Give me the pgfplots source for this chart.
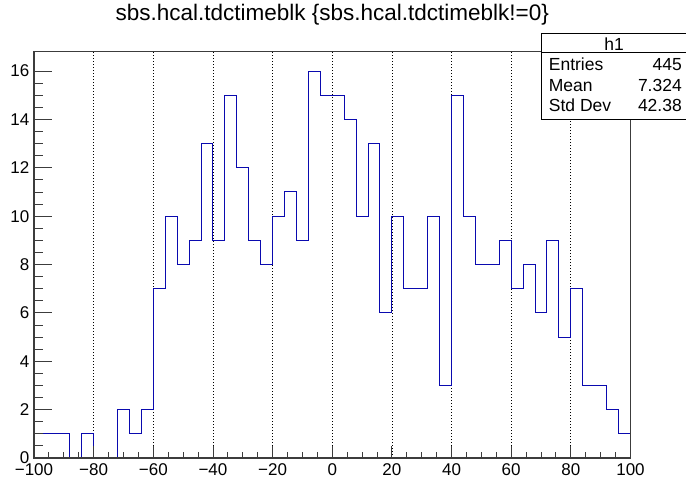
\documentclass[border=0pt]{standalone}
\usepackage{fontspec}
\setmainfont{Liberation Sans}
\usepackage{pgfplots}
\pgfplotsset{compat=1.18}

\definecolor{histblue}{RGB}{10,10,175}
\definecolor{framegray}{RGB}{60,60,60}

\begin{document}
\begin{tikzpicture}[x=1pt,y=1pt]
\begin{axis}[
  at={(0,0)}, anchor=south west,
  scale only axis, width=596.5pt, height=406.3pt,
  xmin=-100, xmax=100, ymin=0, ymax=16.8,
  axis on top,
  axis line style={framegray, line width=1.1pt},
  tick pos=left, tick align=inside,
  xtick={-100,-80,...,100},
  xticklabels={−100,−80,−60,−40,−20,0,20,40,60,80,100},
  ytick={0,2,...,16},
  minor x tick num=3, minor y tick num=3,
  xtick style={framegray, line width=0.9pt, /pgfplots/major tick length=12pt, /pgfplots/minor tick length=6pt},
  ytick style={framegray, line width=0.9pt, /pgfplots/major tick length=18pt, /pgfplots/minor tick length=9pt},
  /pgf/number format/assume math mode=true,
  tick label style={font=\fontsize{17}{20}\selectfont},
  xticklabel style={anchor=base, inner sep=0pt, yshift=-17pt},
  yticklabel style={anchor=east, inner sep=0pt, xshift=-4.5pt},
  title={sbs.hcal.tdctimeblk \{sbs.hcal.tdctimeblk!=0\}},
  title style={at={(axis description cs:0.5,1)}, anchor=base, inner sep=0pt,
    yshift=25.3pt, font=\fontsize{22.5}{27}\selectfont},
]
% dotted vertical grid at the major x ticks, drawn below the histogram
\pgfplotsinvokeforeach{-80,-60,-40,-20,0,20,40,60,80}{
  \draw[black, line width=0.8pt, dash pattern=on 0.8pt off 2.2pt]
    (axis cs:#1,0) -- (axis cs:#1,16.8);
}
% histogram h1: 50 bins of width 4, counts per bin (lower edges)
\addplot[const plot mark left, histblue, line width=1pt] coordinates {
  (-100,1) (-96,1) (-92,1) (-88,0) (-84,1) (-80,0) (-76,0) (-72,2) (-68,1) (-64,2)
  (-60,7) (-56,10) (-52,8) (-48,9) (-44,13) (-40,9) (-36,15) (-32,12) (-28,9) (-24,8)
  (-20,10) (-16,11) (-12,9) (-8,16) (-4,15) (0,15) (4,14) (8,10) (12,13) (16,6)
  (20,10) (24,7) (28,7) (32,10) (36,3) (40,15) (44,10) (48,8) (52,8) (56,9)
  (60,7) (64,8) (68,6) (72,9) (76,5) (80,7) (84,3) (88,3) (92,2) (96,1)
  (100,1)
};
\end{axis}
\path[use as bounding box] (-34,-25) rectangle (652,458);
% statistics box
\fill[white] (507,338.5) rectangle (652,424.3);
\draw[black, line width=1pt] (507,338.5) rectangle (652,424.3);
\draw[black, line width=1pt] (507,405) -- (652,405);
\begin{scope}[every node/.style={inner sep=0pt, font=\fontsize{17.5}{21}\selectfont}]
\node[anchor=base] at (580,407.5) {h1};
\node[anchor=base west] at (514.7,387) {Entries};
\node[anchor=base east] at (648,387) {445};
\node[anchor=base west] at (514.7,366.6) {Mean};
\node[anchor=base east] at (648,366.6) {7.324};
\node[anchor=base west] at (514.7,346.3) {Std Dev};
\node[anchor=base east] at (648,346.3) {42.38};
\end{scope}
\end{tikzpicture}
\end{document}
